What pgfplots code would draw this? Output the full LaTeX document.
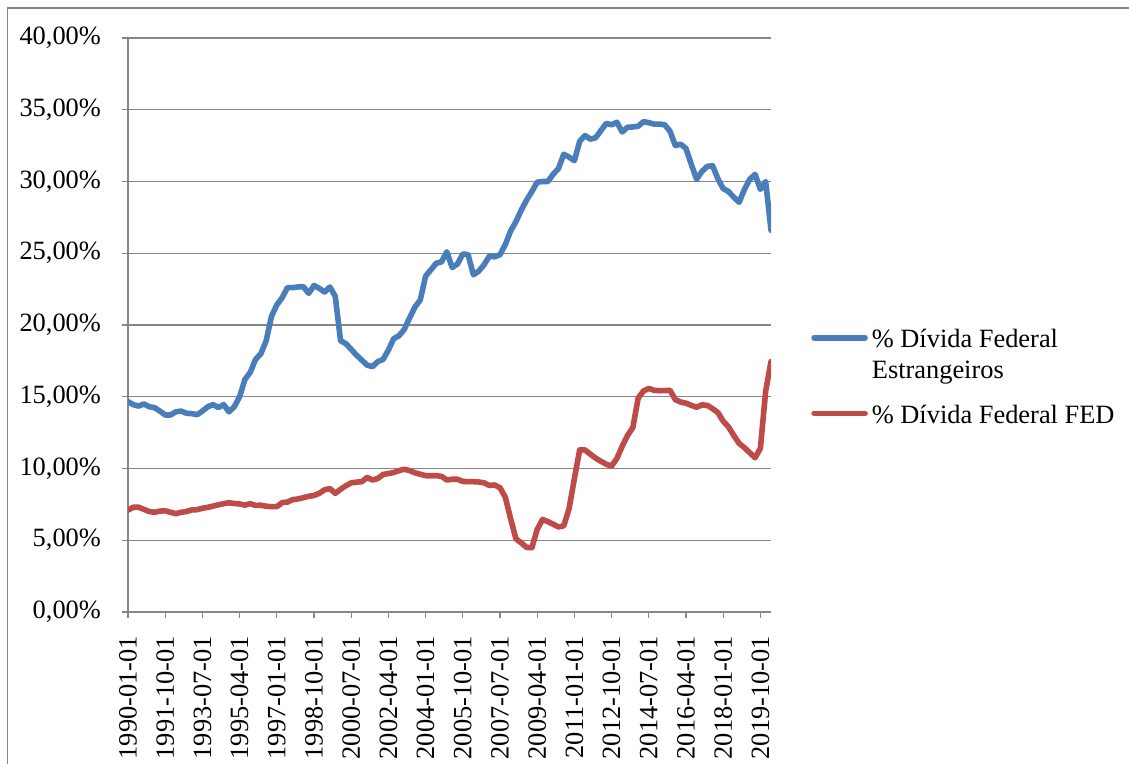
\documentclass[border=0pt]{standalone}
\usepackage{fontspec}
\setmainfont{Liberation Serif}
\usepackage{pgfplots}
\usepackage{pgfplotstable}
\pgfplotsset{compat=1.18}

\definecolor{serieA}{HTML}{4A7EBB}
\definecolor{serieB}{HTML}{BE4B48}
\definecolor{axgray}{HTML}{868686}

% quarterly shares (%), 1990-01-01 (q=0) to 2020-04-01 (q=121)
\pgfplotstableread{
q est fed
0 14.66 7.10
1 14.45 7.30
2 14.35 7.30
3 14.50 7.15
4 14.30 7.00
5 14.24 6.95
6 14.00 7.03
7 13.73 7.05
8 13.73 6.95
9 13.95 6.85
10 14.00 6.95
11 13.85 7.00
12 13.82 7.11
13 13.75 7.13
14 14.00 7.23
15 14.30 7.29
16 14.45 7.38
17 14.25 7.47
18 14.45 7.55
19 13.95 7.61
20 14.30 7.56
21 15.00 7.53
22 16.20 7.45
23 16.70 7.55
24 17.60 7.43
25 18.00 7.44
26 18.90 7.37
27 20.60 7.34
28 21.40 7.34
29 21.90 7.62
30 22.60 7.66
31 22.60 7.83
32 22.65 7.88
33 22.67 7.97
34 22.20 8.06
35 22.75 8.12
36 22.55 8.27
37 22.30 8.52
38 22.65 8.60
39 22.00 8.27
40 18.90 8.55
41 18.70 8.80
42 18.30 9.00
43 17.90 9.05
44 17.55 9.08
45 17.20 9.38
46 17.10 9.20
47 17.45 9.30
48 17.60 9.58
49 18.25 9.65
50 19.05 9.72
51 19.25 9.85
52 19.70 9.95
53 20.50 9.85
54 21.25 9.70
55 21.75 9.60
56 23.40 9.50
57 23.85 9.49
58 24.30 9.50
59 24.40 9.45
60 25.10 9.20
61 24.00 9.25
62 24.25 9.25
63 24.95 9.10
64 24.90 9.08
65 23.50 9.08
66 23.75 9.06
67 24.20 9.00
68 24.80 8.82
69 24.75 8.85
70 24.90 8.66
71 25.60 8.00
72 26.55 6.50
73 27.20 5.10
74 28.00 4.82
75 28.70 4.50
76 29.30 4.48
77 29.95 5.75
78 30.00 6.45
79 30.00 6.30
80 30.50 6.12
81 30.90 5.93
82 31.90 6.00
83 31.70 7.20
84 31.45 9.30
85 32.80 11.30
86 33.20 11.29
87 32.95 11.00
88 33.05 10.72
89 33.55 10.50
90 34.05 10.30
91 33.95 10.17
92 34.13 10.70
93 33.45 11.55
94 33.78 12.30
95 33.80 12.85
96 33.85 14.90
97 34.17 15.40
98 34.10 15.58
99 34.00 15.45
100 34.00 15.42
101 33.95 15.43
102 33.50 15.45
103 32.50 14.80
104 32.60 14.63
105 32.30 14.55
106 31.20 14.40
107 30.15 14.27
108 30.70 14.43
109 31.05 14.40
110 31.10 14.17
111 30.20 13.90
112 29.50 13.30
113 29.30 12.90
114 28.90 12.30
115 28.55 11.75
116 29.45 11.45
117 30.15 11.10
118 30.50 10.75
119 29.45 11.40
120 30.00 15.40
121 26.60 17.45
}\dividas

\begin{document}
\begin{tikzpicture}[font=\fontsize{13.2}{15.5}\selectfont]
% page extent and chart-area border
\useasboundingbox (0pt,0pt) rectangle (564.5pt,382pt);
\draw[axgray, line width=0.7pt] (3.6pt,0pt) -- (3.6pt,378pt) -- (564.5pt,378pt);

\begin{axis}[
  at={(64pt,76pt)}, anchor=south west,
  scale only axis, width=321.5pt, height=287pt,
  xmin=0, xmax=121, ymin=0, ymax=40,
  axis lines*=left,
  axis line style={axgray, line width=0.6pt},
  ymajorgrids,
  grid style={axgray, line width=0.6pt},
  tick align=outside,
  major tick length=3pt,
  tick style={axgray, line width=0.6pt},
  xtick={0,7,...,119},
  xticklabels={1990-01-01,1991-10-01,1993-07-01,1995-04-01,1997-01-01,1998-10-01,2000-07-01,2002-04-01,2004-01-01,2005-10-01,2007-07-01,2009-04-01,2011-01-01,2012-10-01,2014-07-01,2016-04-01,2018-01-01,2019-10-01},
  xticklabel style={rotate=90, anchor=east},
  xticklabel shift=5.5pt,
  ytick={0,5,...,40},
  yticklabel={\pgfmathprintnumber[fixed,fixed zerofill,precision=2,use comma]{\tick}\%},
  yticklabel shift=7pt,
  /pgf/number format/assume math mode=true,
  tick label style={font=\fontsize{13.2}{15.5}\selectfont},
  legend cell align=left,
  legend style={at={(1.062,0.500)}, anchor=north west, draw=none, fill=none,
    inner sep=0pt, row sep=7.6pt,
    cells={anchor=base west, align=left, inner xsep=0pt, inner ysep=3pt},
    font=\fontsize{13.2}{15.5}\selectfont},
  legend image code/.code={\draw[#1] (0pt,5pt) -- (25.5pt,5pt);},
  every axis plot/.append style={line width=2.8pt, line join=round, line cap=round},
]
% two-line entry: its base is the second line, so the sample sits one line higher
\addplot[serieA, legend image post style={yshift=15.5pt}]
  table[x=q, y=est] {\dividas};
\addlegendentry[align=left]{\% Dívida Federal\\Estrangeiros}
\addplot[serieB] table[x=q, y=fed] {\dividas};
\addlegendentry{\% Dívida Federal FED}
\end{axis}
\end{tikzpicture}
\end{document}
